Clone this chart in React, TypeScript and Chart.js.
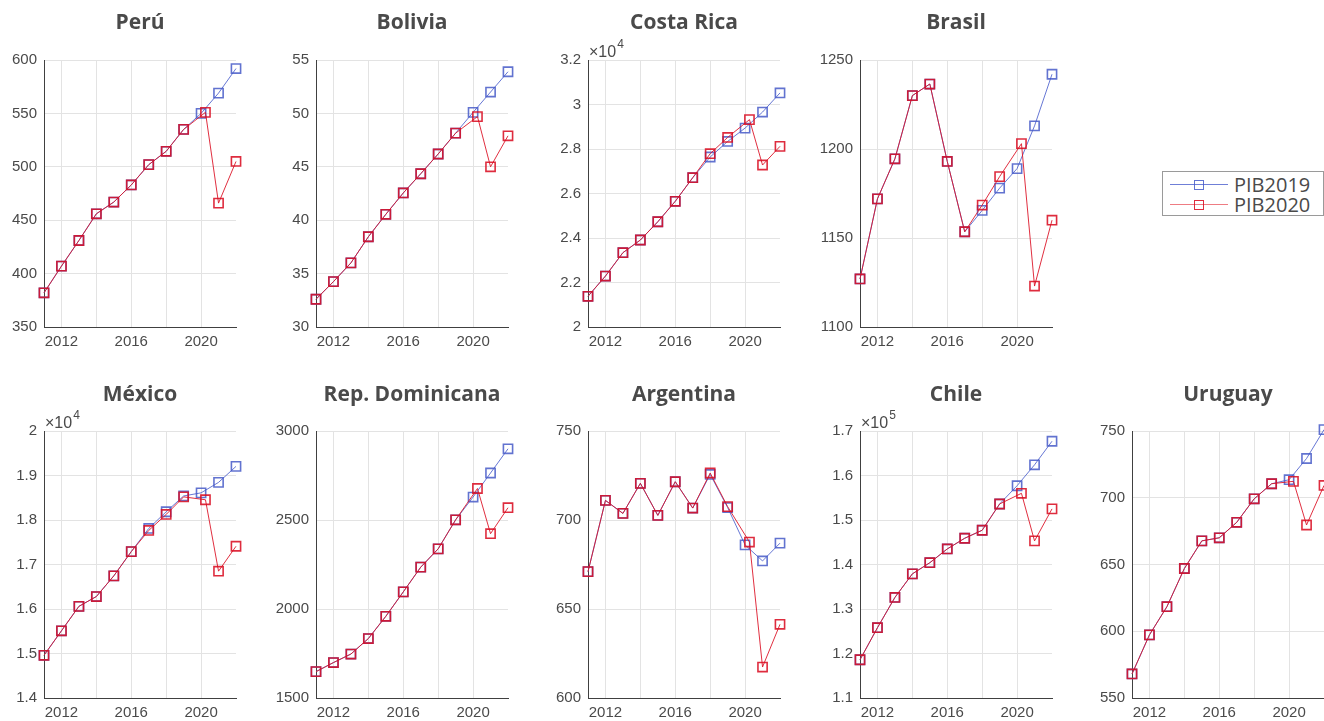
import React, { useEffect, useRef } from "react";
import { Chart, registerables } from "chart.js";

Chart.register(...registerables);

// ---------- data ----------
const YEARS_2019 = [2011, 2012, 2013, 2014, 2015, 2016, 2017, 2018, 2019, 2020, 2021, 2022];
const YEARS_2020 = [2011, 2012, 2013, 2014, 2015, 2016, 2017, 2018, 2019, 2020.25, 2021, 2022];
const X_TICKS = [2012, 2014, 2016, 2018, 2020, 2022];
const X_TICK_LABELS = [2012, 2016, 2020];
const SERIES_NAMES = ["PIB2019", "PIB2020"];

const PERU_2019 = [382, 407, 431, 456, 467, 483, 502, 514.5, 535, 550, 569, 592];
const PERU_2020 = [382, 407, 431, 456, 467, 483, 502, 514.5, 535, 551, 466, 505];

const BOLIVIA_2019 = [32.6, 34.25, 36.0, 38.45, 40.55, 42.55, 44.35, 46.2, 48.15, 50.1, 52.0, 53.9];
const BOLIVIA_2020 = [32.6, 34.25, 36.0, 38.45, 40.55, 42.55, 44.35, 46.2, 48.15, 49.7, 45.0, 47.9];

const COSTA_RICA_2019 = [21380, 22290, 23340, 23910, 24730, 25650, 26710, 27640, 28340, 28940, 29660, 30520];
const COSTA_RICA_2020 = [21380, 22290, 23340, 23910, 24730, 25650, 26710, 27790, 28520, 29320, 27280, 28120];

const BRASIL_2019 = [1127, 1172, 1194.5, 1230, 1236.5, 1193, 1153.5, 1165.5, 1178, 1189, 1213, 1242];
const BRASIL_2020 = [1127, 1172, 1194.5, 1230, 1236.5, 1193, 1153.5, 1168.5, 1184.5, 1203, 1123, 1160];

const MEXICO_2019 = [14960, 15510, 16060, 16280, 16745, 17290, 17810, 18185, 18540, 18610, 18845, 19205];
const MEXICO_2020 = [14960, 15510, 16060, 16280, 16745, 17290, 17765, 18125, 18520, 18455, 16850, 17410];

const REP_DOM_2019 = [1648, 1699, 1747, 1834, 1959, 2096, 2235, 2338, 2501, 2629, 2764, 2900];
const REP_DOM_2020 = [1648, 1699, 1747, 1834, 1959, 2096, 2235, 2338, 2501, 2677, 2423, 2569];

const ARGENTINA_2019 = [671, 711, 703.7, 720.6, 702.6, 721.5, 706.7, 725.6, 707, 686, 677, 687];
const ARGENTINA_2020 = [671, 711, 703.7, 720.6, 702.6, 721.5, 706.7, 726.4, 707.5, 687.6, 617.4, 641.4];

const CHILE_2019 = [118600, 125800, 132600, 137900, 140400, 143500, 145900, 147700, 153600, 157700, 162400, 167700];
const CHILE_2020 = [118600, 125800, 132600, 137900, 140400, 143500, 145900, 147700, 153600, 156000, 145300, 152500];

const URUGUAY_2019 = [568, 597.3, 618.4, 647, 667.7, 670, 681.6, 699.2, 710.5, 713.5, 729.4, 751];
const URUGUAY_2020 = [568, 597.3, 618.4, 647, 667.7, 670, 681.6, 699.2, 710.5, 712.3, 679.6, 709.2];

const TITLES = ["Perú", "Bolivia", "Costa Rica", "Brasil", "México", "Rep. Dominicana", "Argentina", "Chile", "Uruguay"];
const Y_MIN = [350, 30, 20000, 1100, 14000, 1500, 600, 110000, 550];
const Y_MAX = [600, 55, 32000, 1250, 20000, 3000, 750, 170000, 750];
const Y_STEP = [50, 5, 2000, 50, 1000, 500, 50, 10000, 50];
const Y_EXP = [0, 0, 4, 0, 4, 0, 0, 5, 0];

const PANELS = [
  { a: PERU_2019, b: PERU_2020 },
  { a: BOLIVIA_2019, b: BOLIVIA_2020 },
  { a: COSTA_RICA_2019, b: COSTA_RICA_2020 },
  { a: BRASIL_2019, b: BRASIL_2020 },
  { a: MEXICO_2019, b: MEXICO_2020 },
  { a: REP_DOM_2019, b: REP_DOM_2020 },
  { a: ARGENTINA_2019, b: ARGENTINA_2020 },
  { a: CHILE_2019, b: CHILE_2020 },
  { a: URUGUAY_2019, b: URUGUAY_2020 },
];

// ---------- styling / layout ----------
const TEXT = "#4a4a4a";
const AXIS = "#404040";
const GRID = "#e3e3e3";
const BLUE_LINE = "rgba(75,95,205,0.85)";
const BLUE_PT = "rgba(70,90,200,0.85)";
const RED_LINE = "rgba(220,18,38,0.88)";
const RED_PT = "rgba(218,15,35,0.88)";
const TICK_FONT = "'Liberation Sans', Arial, sans-serif";
const TITLE_FONT = "'Open Sans', 'Noto Sans', sans-serif";

const PLOT_W = 192;
const PLOT_H = 267;
const SIDE = 48;
const TOP = 60;
const BOTTOM = 30;
const CANVAS_W = PLOT_W + 2 * SIDE;
const CANVAS_H = TOP + PLOT_H + BOTTOM;
const COL_X = [44, 316, 588, 860, 1132];
const ROW_Y = [0, 371];
// panel index -> grid slot (row, col)
const SLOTS = [
  [0, 0], [0, 1], [0, 2], [0, 3],
  [1, 0], [1, 1], [1, 2], [1, 3], [1, 4],
];

const exponentPlugin = {
  id: "exponentLabel",
  afterDraw(chart: any, _args: any, opts: any) {
    if (!opts || !opts.exp) return;
    const { ctx, chartArea } = chart;
    ctx.save();
    ctx.fillStyle = TEXT;
    ctx.textBaseline = "alphabetic";
    ctx.textAlign = "left";
    ctx.font = `16px ${TICK_FONT}`;
    const base = "\u00d710";
    const x = chartArea.left + 1;
    const y = chartArea.top - 3;
    ctx.fillText(base, x, y);
    const w = ctx.measureText(base).width;
    ctx.font = `12px ${TICK_FONT}`;
    ctx.fillText(String(opts.exp), x + w + 1, y - 9);
    ctx.restore();
  },
};

function fmt(v: number, exp: number) {
  const s = v / Math.pow(10, exp);
  return String(Number(s.toFixed(4)));
}

function Panel({ index }: { index: number }) {
  const ref = useRef<HTMLCanvasElement | null>(null);
  const [row, col] = SLOTS[index];
  const left = COL_X[col] - SIDE;
  const top = ROW_Y[row];

  useEffect(() => {
    if (!ref.current) return;
    const p = PANELS[index];
    const exp = Y_EXP[index];
    const mk = (xs: number[], ys: number[]) => ys.map((y, i) => ({ x: xs[i], y }));
    const chart = new Chart(ref.current, {
      type: "line",
      data: {
        datasets: [
          {
            label: SERIES_NAMES[0],
            data: mk(YEARS_2019, p.a),
            order: 2,
            borderColor: BLUE_LINE,
            borderWidth: 1,
            pointStyle: "rect",
            pointRadius: 6.5,
            pointBorderWidth: 1.6,
            pointBorderColor: BLUE_PT,
            pointBackgroundColor: "rgba(0,0,0,0)",
            tension: 0,
            clip: false,
          },
          {
            label: SERIES_NAMES[1],
            data: mk(YEARS_2020, p.b),
            order: 1,
            borderColor: RED_LINE,
            borderWidth: 1,
            pointStyle: "rect",
            pointRadius: 6.5,
            pointBorderWidth: 1.6,
            pointBorderColor: RED_PT,
            pointBackgroundColor: "rgba(0,0,0,0)",
            tension: 0,
            clip: false,
          },
        ],
      } as any,
      options: {
        animation: false,
        responsive: false,
        devicePixelRatio: 1,
        events: [],
        layout: { padding: 0 },
        plugins: {
          legend: { display: false },
          tooltip: { enabled: false },
          title: {
            display: true,
            text: TITLES[index],
            color: TEXT,
            font: { family: TITLE_FONT, size: 21, weight: "bold", lineHeight: 1.2 },
            padding: { top: row === 0 ? 10 : 11, bottom: row === 0 ? 24.8 : 23.8 },
          },
          exponentLabel: { exp },
        } as any,
        scales: {
          x: {
            type: "linear",
            min: 2011,
            max: 2022,
            afterBuildTicks: (s: any) => {
              s.ticks = X_TICKS.map((v) => ({ value: v }));
            },
            ticks: {
              autoSkip: false,
              maxRotation: 0,
              padding: 6,
              color: TEXT,
              font: { family: TICK_FONT, size: 15 },
              callback: (v: any) => (X_TICK_LABELS.includes(Number(v)) ? String(v) : ""),
            },
            grid: {
              drawTicks: false,
              color: (c: any) => (c.tick && c.tick.value === 2022 ? "rgba(0,0,0,0)" : GRID),
            },
            border: { color: AXIS, width: 1 },
            afterFit: (s: any) => {
              s.height = BOTTOM;
            },
          },
          y: {
            type: "linear",
            position: "left",
            min: Y_MIN[index],
            max: Y_MAX[index],
            ticks: {
              stepSize: Y_STEP[index],
              padding: 7,
              color: TEXT,
              font: { family: TICK_FONT, size: 15 },
              callback: (v: any) => fmt(Number(v), exp),
            },
            grid: {
              drawTicks: false,
              color: (c: any) => (c.tick && c.tick.value === Y_MIN[index] ? "rgba(0,0,0,0)" : GRID),
            },
            border: { color: AXIS, width: 1 },
            afterFit: (s: any) => {
              s.width = SIDE;
            },
          },
          pad: {
            type: "linear",
            position: "right",
            display: true,
            grid: { display: false, drawTicks: false },
            border: { display: false },
            ticks: { display: false },
            afterFit: (s: any) => {
              s.width = SIDE;
            },
          },
        } as any,
      },
      plugins: [exponentPlugin as any],
    });
    return () => chart.destroy();
  }, [index]);

  return (
    <canvas
      ref={ref}
      width={CANVAS_W}
      height={CANVAS_H}
      style={{ position: "absolute", left, top, width: CANVAS_W, height: CANVAS_H }}
    />
  );
}

function Legend() {
  const rows = [
    { name: SERIES_NAMES[0], line: "rgba(75,95,205,0.8)", pt: BLUE_PT, cy: 12.5 },
    { name: SERIES_NAMES[1], line: "rgba(232,80,90,0.75)", pt: RED_PT, cy: 32.5 },
  ];
  return (
    <div
      style={{
        position: "absolute",
        left: 1162,
        top: 171,
        width: 162,
        height: 45,
        border: "1px solid #9a9a9a",
        background: "#ffffff",
        boxSizing: "border-box",
      }}
    >
      {rows.map((r) => (
        <React.Fragment key={r.name}>
          <div
            style={{
              position: "absolute",
              left: 7,
              top: r.cy - 0.5,
              width: 58,
              height: 1,
              background: r.line,
            }}
          />
          <div
            style={{
              position: "absolute",
              left: 31,
              top: r.cy - 5,
              width: 10,
              height: 10,
              border: `1.5px solid ${r.pt}`,
              boxSizing: "border-box",
            }}
          />
          <div
            style={{
              position: "absolute",
              left: 71,
              top: r.cy - 12,
              height: 24,
              lineHeight: "24px",
              fontFamily: TITLE_FONT,
              fontSize: 20,
              fontWeight: 500,
              color: TEXT,
              whiteSpace: "nowrap",
            }}
          >
            {r.name}
          </div>
        </React.Fragment>
      ))}
    </div>
  );
}

export default function App() {
  return (
    <div
      style={{
        position: "fixed",
        left: 0,
        top: 0,
        width: 1324,
        height: 721,
        overflow: "hidden",
        background: "#ffffff",
      }}
    >
      {PANELS.map((_, i) => (
        <Panel key={i} index={i} />
      ))}
      <Legend />
    </div>
  );
}
